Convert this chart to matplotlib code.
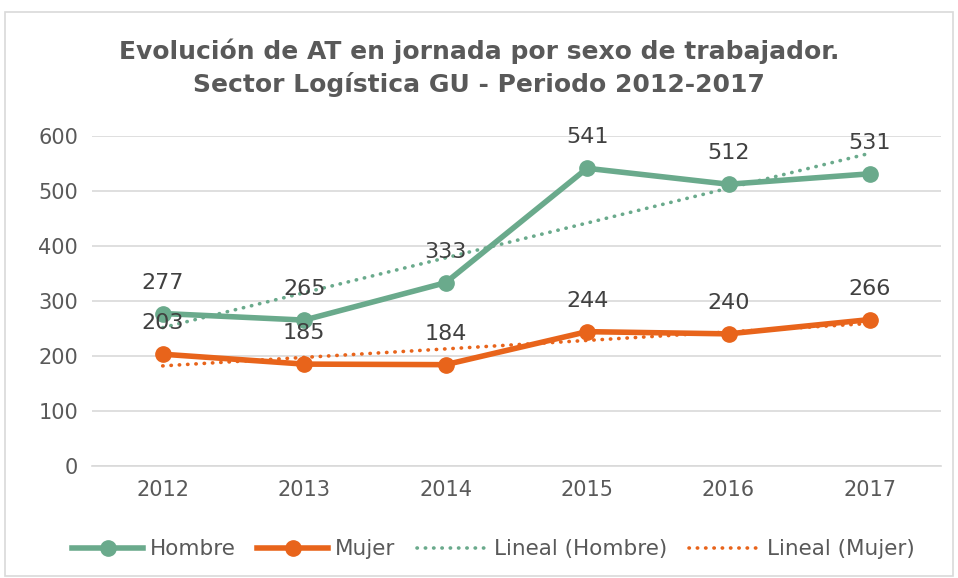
import numpy as np
import matplotlib
matplotlib.use('Agg')
from matplotlib import pyplot as plt
from matplotlib.patches import Rectangle

years = ['2012', '2013', '2014', '2015', '2016', '2017']
hombre = [277, 265, 333, 541, 512, 531]
mujer = [203, 185, 184, 244, 240, 266]

green = '#6aaa8c'
orange = '#e8641b'
text_col = '#595959'

plt.rcParams['font.family'] = ['DejaVu Sans']

fig = plt.figure(figsize=(9.58, 5.78), dpi=100)
ax = fig.add_axes([0.096, 0.194, 0.886, 0.571])

x = np.arange(len(years))

for vals, col, name in [(hombre, green, 'Hombre'), (mujer, orange, 'Mujer')]:
    ax.plot(x, vals, '-o', color=col, lw=4, ms=11, label=name, zorder=3)

# linear trendlines, like Excel's "Lineal"
for vals, col, name in [(hombre, green, 'Hombre'), (mujer, orange, 'Mujer')]:
    m, b = np.polyfit(x, vals, 1)
    ax.plot(x, m * x + b, color=col, lw=2.6, linestyle=(0, (0.1, 2.2)),
            dash_capstyle='round', label='Lineal (%s)' % name, zorder=2)

for vals in (hombre, mujer):
    for i, v in enumerate(vals):
        ax.annotate(str(v), (x[i], v), xytext=(0, 15), textcoords='offset points',
                    ha='center', va='bottom', fontsize=16, color='#404040', zorder=4)

ax.set_xlim(-0.5, len(years) - 0.5)
ax.set_ylim(0, 600)
ax.set_yticks(np.arange(0, 601, 100))
ax.set_xticks(x)
ax.set_xticklabels(years)
ax.tick_params(axis='both', length=0, labelsize=15, labelcolor=text_col, pad=10)
ax.grid(axis='y', color='#d9d9d9', lw=1.2)
ax.set_axisbelow(True)
for s in ['top', 'right', 'left']:
    ax.spines[s].set_visible(False)
ax.spines['bottom'].set_color('#d9d9d9')
ax.spines['bottom'].set_linewidth(1.2)

fig.text(0.5, 0.883, 'Evolución de AT en jornada por sexo de trabajador.\nSector Logística GU - Periodo 2012-2017',
         ha='center', va='center', fontsize=18, fontweight='bold', color=text_col, linespacing=1.4)

fig.legend(*ax.get_legend_handles_labels(), loc='center', bbox_to_anchor=(0.515, 0.05), ncol=4,
           frameon=False, fontsize=15.5, labelcolor=text_col, handlelength=3.3,
           handletextpad=0.3, columnspacing=1.0)

fig.patches.append(Rectangle((0.005, 0.003), 0.99, 0.976, transform=fig.transFigure,
                             fill=False, edgecolor='#d9d9d9', lw=1.2))

fig.savefig('out.png', dpi=100)
